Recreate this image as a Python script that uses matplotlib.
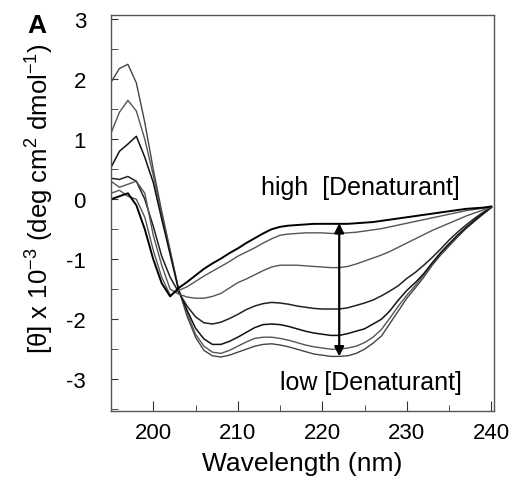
import matplotlib
matplotlib.use("Agg")
import matplotlib.pyplot as plt
import numpy as np
from matplotlib.ticker import MultipleLocator

plt.rcParams['font.family'] = ['Liberation Sans', 'DejaVu Sans']
plt.rcParams['axes.unicode_minus'] = False
plt.rcParams['mathtext.fontset'] = 'custom'
plt.rcParams['mathtext.rm'] = 'Liberation Sans'

# wavelength grid (nm), 1 nm steps
wavelength = list(range(195, 241))

# ellipticity x 10^-3, low -> high denaturant
theta_c1 = [1.95, 2.18, 2.25, 1.94, 1.28, 0.50, -0.20, -0.85, -1.50, -1.95,
            -2.30, -2.52, -2.61, -2.63, -2.60, -2.55, -2.50, -2.45, -2.42, -2.41,
            -2.43, -2.46, -2.50, -2.54, -2.58, -2.60, -2.62, -2.62, -2.61, -2.57,
            -2.50, -2.40, -2.28, -2.07, -1.86, -1.65, -1.48, -1.30, -1.10, -0.93,
            -0.78, -0.63, -0.49, -0.37, -0.25, -0.14]
theta_c2 = [1.10, 1.45, 1.65, 1.47, 1.00, 0.40, -0.25, -0.88, -1.50, -1.90,
            -2.25, -2.45, -2.55, -2.57, -2.52, -2.45, -2.38, -2.32, -2.30, -2.30,
            -2.32, -2.35, -2.39, -2.43, -2.46, -2.48, -2.50, -2.50, -2.48, -2.45,
            -2.39, -2.30, -2.17, -1.98, -1.78, -1.60, -1.44, -1.26, -1.07, -0.90,
            -0.76, -0.61, -0.48, -0.36, -0.25, -0.14]
theta_c3 = [0.53, 0.80, 0.92, 1.05, 0.70, 0.28, -0.33, -0.92, -1.52, -1.85,
            -2.15, -2.33, -2.42, -2.42, -2.37, -2.30, -2.22, -2.14, -2.09, -2.08,
            -2.09, -2.12, -2.16, -2.20, -2.23, -2.25, -2.27, -2.27, -2.24, -2.20,
            -2.16, -2.08, -2.00, -1.86, -1.68, -1.52, -1.39, -1.24, -1.06, -0.89,
            -0.74, -0.60, -0.47, -0.35, -0.24, -0.13]
theta_c4 = [0.35, 0.33, 0.38, 0.30, 0.00, -0.45, -0.95, -1.30, -1.55, -1.78,
            -1.96, -2.06, -2.08, -2.05, -1.99, -1.92, -1.84, -1.78, -1.74, -1.72,
            -1.73, -1.75, -1.78, -1.80, -1.82, -1.83, -1.83, -1.83, -1.81, -1.77,
            -1.73, -1.68, -1.61, -1.53, -1.44, -1.32, -1.22, -1.10, -0.97, -0.83,
            -0.68, -0.55, -0.43, -0.32, -0.22, -0.13]
theta_c5 = [0.30, 0.20, 0.25, 0.30, 0.10, -0.60, -1.10, -1.50, -1.58, -1.63,
            -1.65, -1.65, -1.62, -1.57, -1.48, -1.39, -1.33, -1.26, -1.19, -1.13,
            -1.10, -1.10, -1.10, -1.11, -1.12, -1.13, -1.14, -1.14, -1.12, -1.08,
            -1.03, -0.98, -0.93, -0.87, -0.80, -0.73, -0.66, -0.59, -0.52, -0.46,
            -0.40, -0.34, -0.28, -0.23, -0.18, -0.13]
theta_c6 = [0.10, 0.15, 0.05, 0.00, -0.30, -0.85, -1.30, -1.60, -1.52, -1.46,
            -1.37, -1.28, -1.20, -1.12, -1.04, -0.95, -0.88, -0.81, -0.73, -0.66,
            -0.60, -0.58, -0.57, -0.56, -0.56, -0.56, -0.57, -0.57, -0.56, -0.55,
            -0.53, -0.51, -0.49, -0.46, -0.43, -0.40, -0.37, -0.34, -0.31, -0.28,
            -0.25, -0.22, -0.19, -0.17, -0.15, -0.13]
theta_c7 = [0.00, 0.05, 0.10, -0.10, -0.50, -1.00, -1.40, -1.62, -1.48, -1.38,
            -1.27, -1.16, -1.07, -0.99, -0.90, -0.82, -0.73, -0.65, -0.57, -0.50,
            -0.46, -0.44, -0.43, -0.42, -0.41, -0.41, -0.41, -0.41, -0.41, -0.40,
            -0.39, -0.38, -0.36, -0.34, -0.32, -0.30, -0.28, -0.26, -0.24, -0.22,
            -0.20, -0.18, -0.16, -0.15, -0.14, -0.12]

curves = [theta_c1, theta_c2, theta_c3, theta_c4, theta_c5, theta_c6, theta_c7]
line_colors = ['#444444', '#555555', '#111111', '#222222', '#555555', '#555555', '#000000']
line_widths = [1.0, 1.0, 1.1, 1.1, 1.0, 1.0, 1.4]

arrow_x = 222
arrow_top = -0.40
arrow_bottom = -2.62

fig = plt.figure(figsize=(5.26, 4.81), dpi=100)
ax = fig.add_axes([0.211, 0.1435, 0.728, 0.823])

for vals, c, lw in zip(curves, line_colors, line_widths):
    ax.plot(wavelength, vals, color=c, lw=lw)

ax.annotate('', xy=(arrow_x, arrow_top), xytext=(arrow_x, arrow_bottom),
            arrowprops=dict(arrowstyle='<|-|>', color='black', lw=1.6,
                            mutation_scale=14, shrinkA=0, shrinkB=0))

ax.text(212.8, 0.2, 'high  [Denaturant]', fontsize=18, va='center', ha='left')
ax.text(215.0, -3.05, 'low [Denaturant]', fontsize=18, va='center', ha='left')

ax.set_xlim(195, 240.3)
ax.set_ylim(-3.53, 3.07)
ax.xaxis.set_major_locator(MultipleLocator(10))
ax.xaxis.set_minor_locator(MultipleLocator(5))
ax.yaxis.set_major_locator(MultipleLocator(1))
ax.yaxis.set_minor_locator(MultipleLocator(0.5))
ax.tick_params(which='both', direction='in', labelsize=16, color='#333333')
ax.tick_params(axis='x', which='major', length=7, pad=8)
ax.tick_params(axis='x', which='minor', length=4)
ax.tick_params(axis='y', which='both', length=5, pad=18)
for sp in ax.spines.values():
    sp.set_color('#555555')
    sp.set_linewidth(1.0)

ax.set_xlabel('Wavelength (nm)', fontsize=19, labelpad=6)
ax.set_ylabel(r'[$\mathregular{\theta}$] x 10$^{\mathregular{-3}}$ (deg cm$^{\mathregular{2}}$ dmol$^{\mathregular{-1}}$)',
              fontsize=18.5)
ax.yaxis.set_label_coords(-0.145, 0.54)

fig.text(0.07, 0.945, 'A', fontsize=19, fontweight='bold', ha='center', va='center')

fig.savefig('out.png', dpi=100)
